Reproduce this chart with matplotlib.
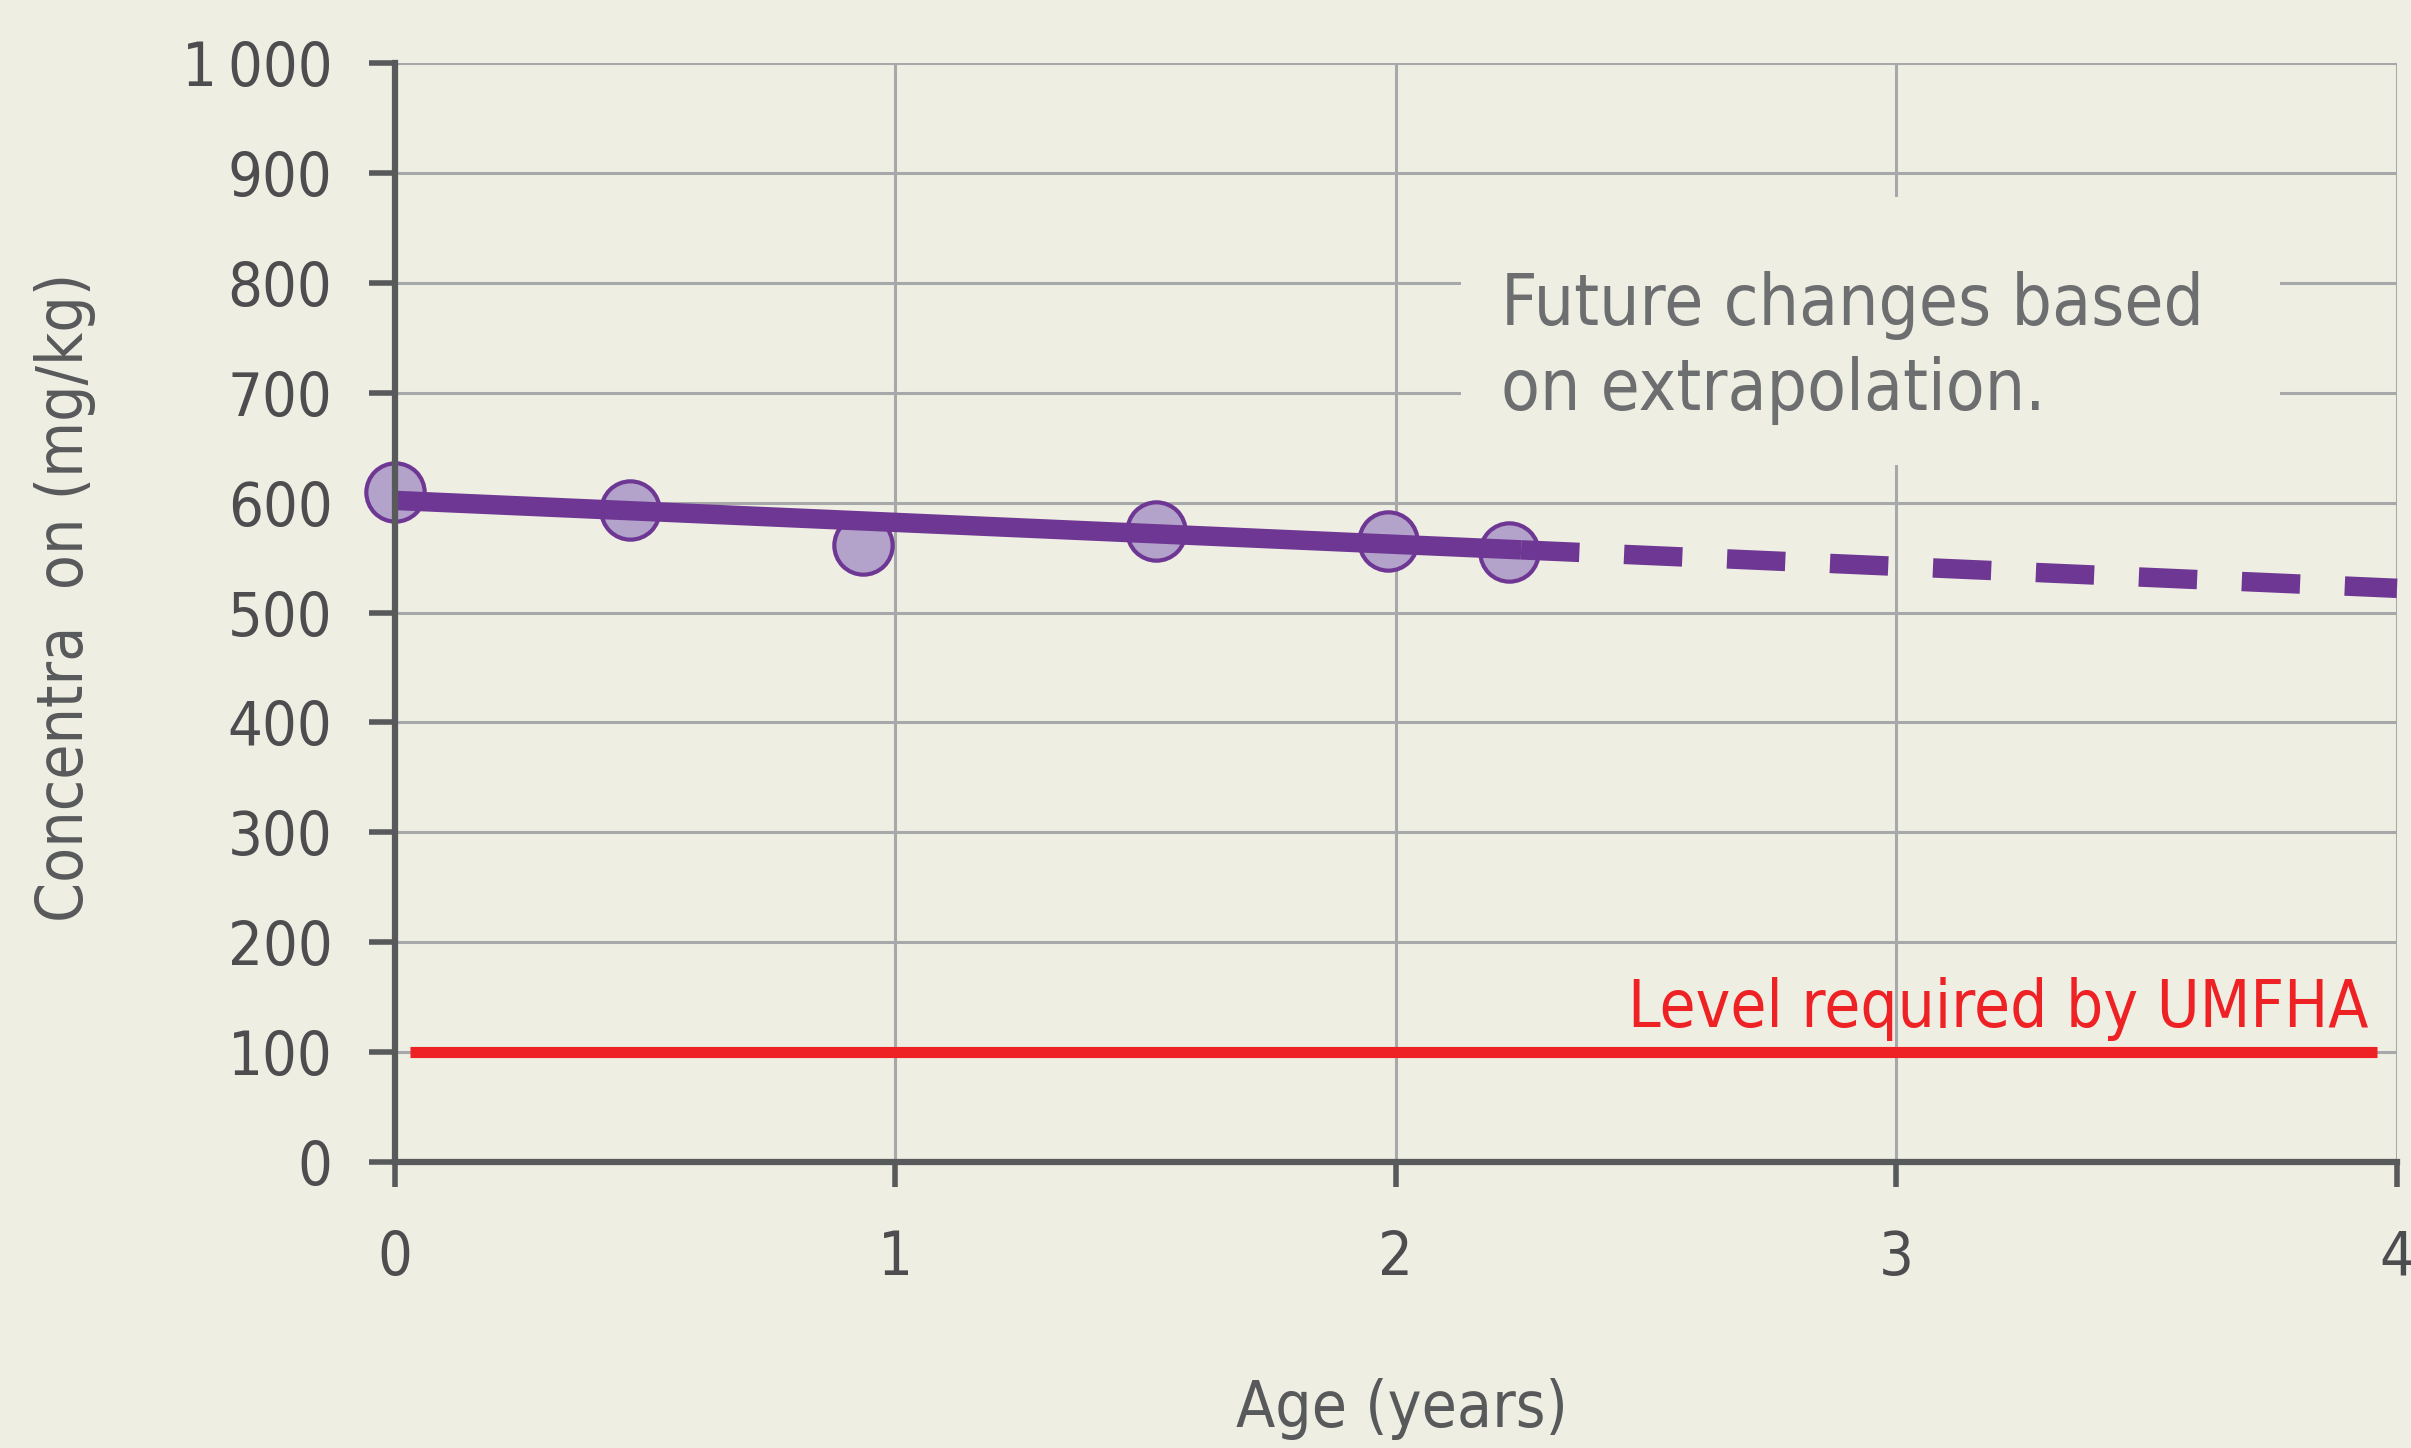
import matplotlib.pyplot as plt
from matplotlib.patches import Rectangle

# measured points
age = [0.0, 0.47, 0.935, 1.52, 1.985, 2.226]
conc = [610, 593, 561, 574, 565, 555]

# trend line: solid over the data, dashed extrapolation
trend_x = [0.0, 2.25]
trend_y = [602, 557]
extrap_x = [2.25, 4.0]
extrap_y = [557, 522]

# required level
level_x = [0.03, 3.96]
level_y = [100, 100]

xticks = [0, 1, 2, 3, 4]
yticks = [0, 100, 200, 300, 400, 500, 600, 700, 800, 900, 1000]
ylabels = ["0", "100", "200", "300", "400", "500", "600", "700", "800", "900", "1\u2009000"]

bg = "#EFEEE3"
grid_c = "#A7A8AA"
axis_c = "#58595B"
text_c = "#4D4D4F"
purple = "#6E3794"
purple_fill = "#B3A2C9"
red = "#EE2124"

plt.rcParams["font.family"] = ["DejaVu Sans"]
plt.rcParams["font.stretch"] = "condensed"

fig = plt.figure(figsize=(24.11, 14.48), dpi=100, facecolor=bg)
ax = fig.add_axes([0.1638, 0.1975, 0.8304, 0.759])
ax.set_facecolor(bg)

ax.set_xlim(0, 4)
ax.set_ylim(0, 1000)
ax.set_xticks(xticks)
ax.set_yticks(yticks)
ax.set_yticklabels(ylabels)

ax.set_axisbelow(True)
ax.grid(True, color=grid_c, linewidth=2.2)

for s in ["top", "right"]:
    ax.spines[s].set_visible(False)
for s in ["left", "bottom"]:
    ax.spines[s].set_color(axis_c)
    ax.spines[s].set_linewidth(4.5)
    ax.spines[s].set_zorder(6)

ax.tick_params(axis="y", direction="out", length=19, width=4, color=axis_c,
               labelsize=44, labelcolor=text_c, pad=26)
ax.tick_params(axis="x", direction="out", length=18, width=4, color=axis_c,
               labelsize=44, labelcolor=text_c, pad=30)

# blank panel behind the note
ax.add_patch(Rectangle((2.13, 634), 1.636, 244, facecolor=bg, edgecolor="none", zorder=1))
ax.text(2.21, 684, "Future changes based\non extrapolation.", fontsize=51, color="#6D6E70",
        ha="left", va="baseline", linespacing=1.3, zorder=3)

ax.plot(level_x, level_y, color=red, linewidth=8, solid_capstyle="butt", zorder=3)
ax.text(3.943, 123, "Level required by UMFHA", fontsize=47, color=red,
        ha="right", va="baseline", zorder=3)

ax.plot(age, conc, linestyle="none", marker="o", markersize=42,
        markerfacecolor=purple_fill, markeredgecolor=purple, markeredgewidth=3,
        zorder=4, clip_on=False)
ax.plot(trend_x, trend_y, color=purple, linewidth=14, solid_capstyle="butt", zorder=5)
ax.plot(extrap_x, extrap_y, color=purple, linewidth=14, linestyle=(0, (3.0, 2.3)),
        dash_capstyle="butt", zorder=5, clip_on=False)

fig.text(1402 / 2411, 1 - 1427 / 1448, "Age (years)", fontsize=46, color=axis_c,
         ha="center", va="baseline")
fig.text(65 / 2411, 1 - 597 / 1448, "Concentra  on (mg/kg)", fontsize=46, color=axis_c,
         ha="center", va="center", rotation=90)

fig.savefig("out.png", dpi=100, facecolor=bg)
